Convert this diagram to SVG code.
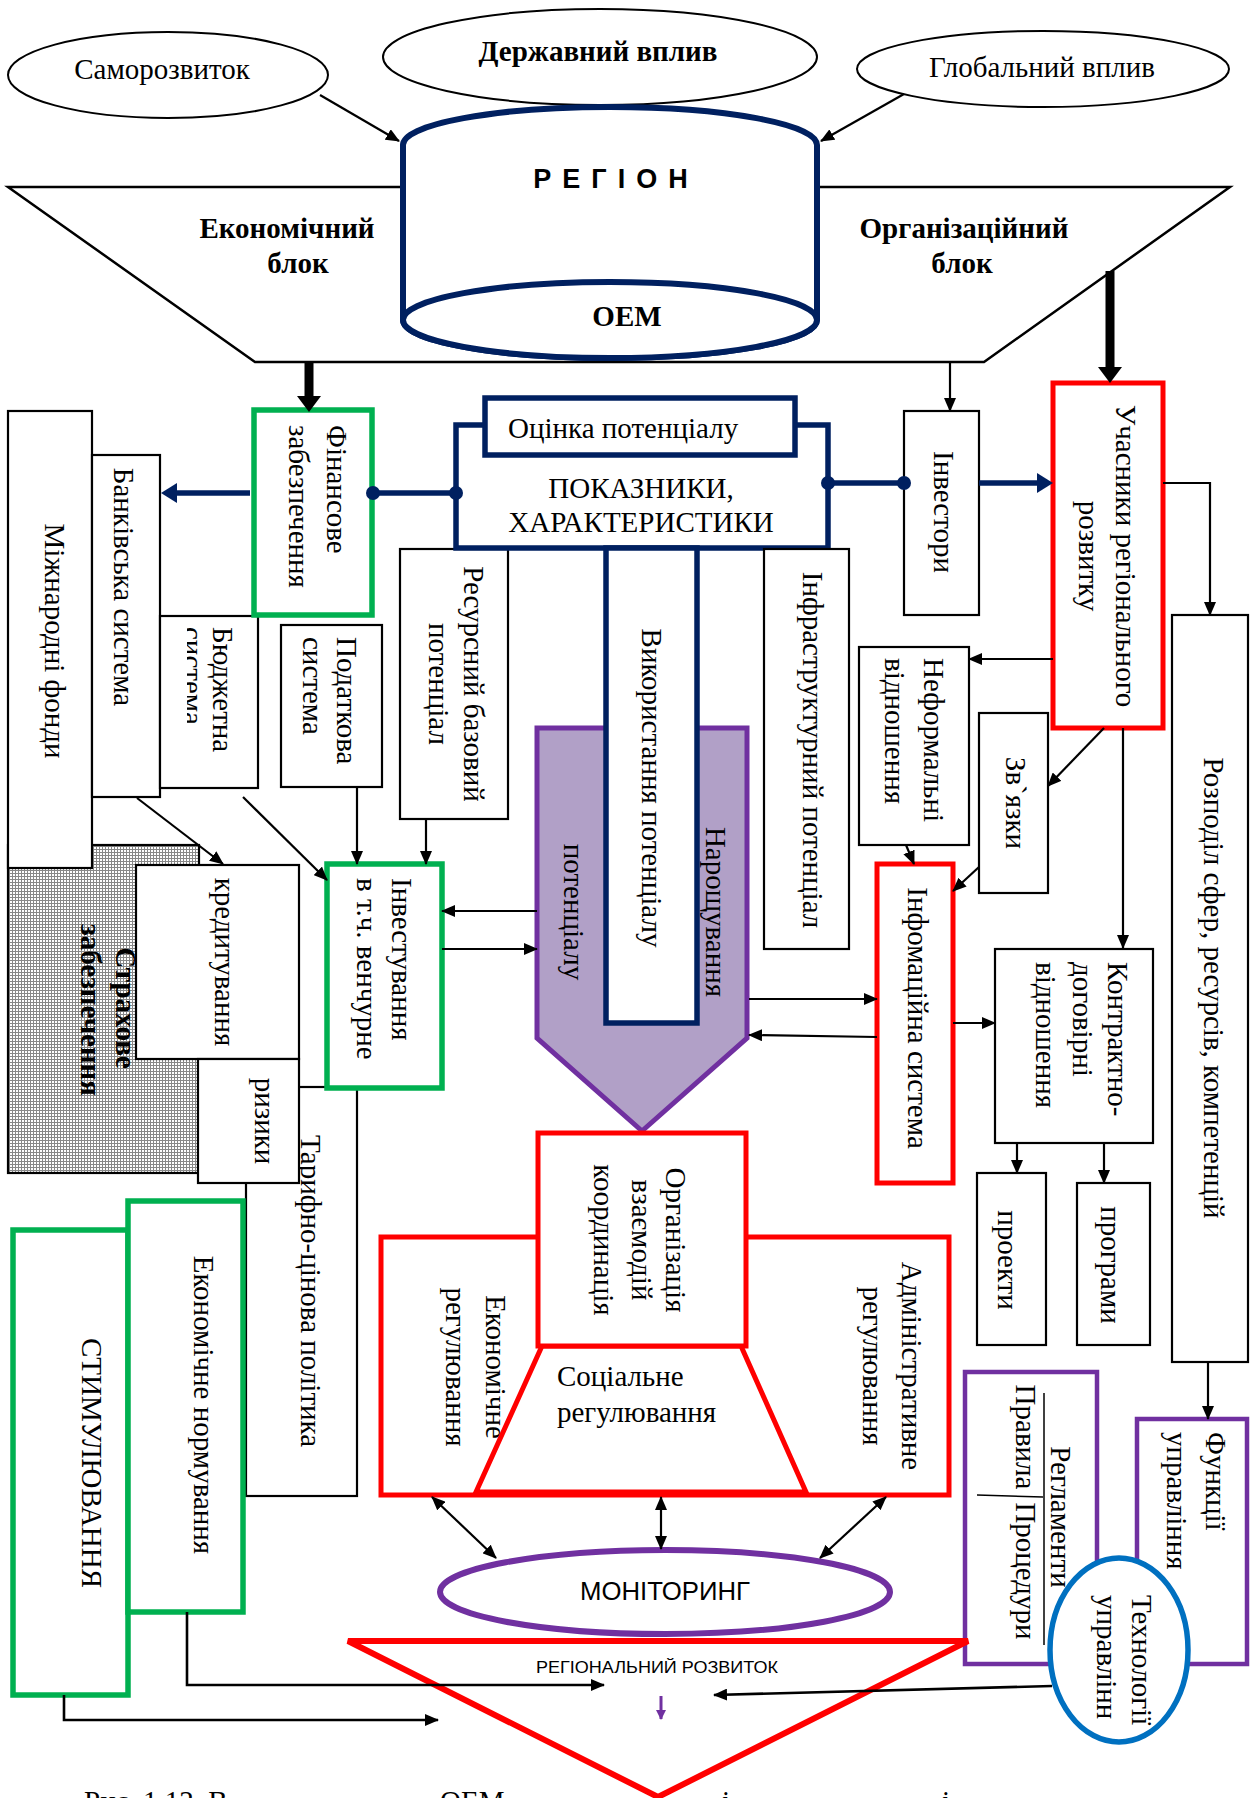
<svg xmlns="http://www.w3.org/2000/svg" width="1255" height="1798" viewBox="0 0 1255 1798">
<defs>
<style>
.t{font-family:"Liberation Serif","DejaVu Serif",serif;font-size:29px;fill:#000}
.tb{font-weight:bold}
.s{font-family:"Liberation Sans","DejaVu Sans",sans-serif}
.b{fill:#fff;stroke:#000;stroke-width:2.2}
.g{fill:#fff;stroke:#00B050;stroke-width:5.5}
.r{fill:#fff;stroke:#FF0000;stroke-width:5}
.n{fill:#fff;stroke:#002060;stroke-width:5.5}
.p{fill:#fff;stroke:#7030A0;stroke-width:4.5}
.c{fill:none;stroke:#000;stroke-width:2.2}
.cn{fill:none;stroke:#002060;stroke-width:5.5}
</style>
<marker id="ah" viewBox="0 0 14 12" refX="13" refY="6" markerWidth="14" markerHeight="12" markerUnits="userSpaceOnUse" orient="auto"><path d="M0,0L14,6L0,12z" fill="#000"/></marker>
<marker id="ahs" viewBox="0 0 14 12" refX="13" refY="6" markerWidth="14" markerHeight="12" markerUnits="userSpaceOnUse" orient="auto-start-reverse"><path d="M0,0L14,6L0,12z" fill="#000"/></marker>
<marker id="ahT" viewBox="0 0 16 24" refX="0" refY="12" markerWidth="16" markerHeight="24" markerUnits="userSpaceOnUse" orient="auto"><path d="M0,0L16,12L0,24z" fill="#000"/></marker>
<marker id="ahN" viewBox="0 0 16 20" refX="0" refY="10" markerWidth="16" markerHeight="20" markerUnits="userSpaceOnUse" orient="auto"><path d="M0,0L16,10L0,20z" fill="#002060"/></marker>
<marker id="ahP" viewBox="0 0 10 10" refX="9" refY="5" markerWidth="10" markerHeight="10" markerUnits="userSpaceOnUse" orient="auto"><path d="M0,0L10,5L0,10z" fill="#7030A0"/></marker>
<pattern id="grid" width="3" height="3" patternUnits="userSpaceOnUse"><rect width="3" height="3" fill="#fff"/><rect width="3" height="1" fill="#888"/><rect width="1" height="3" fill="#888"/></pattern>
<clipPath id="clipB" clipPathUnits="userSpaceOnUse"><rect x="187" y="616" width="71" height="172"/></clipPath>
</defs>

<g id="top-block">
<polygon points="8,187 1230,187 984,362 255,362" fill="#fff" stroke="#000" stroke-width="2.5"/>
<text class="t tb" x="287" y="238" text-anchor="middle">Економічний</text>
<text class="t tb" x="298" y="273" text-anchor="middle">блок</text>
<text class="t tb" x="964" y="238" text-anchor="middle">Організаційний</text>
<text class="t tb" x="962" y="273" text-anchor="middle">блок</text>
</g>

<g id="samorozvytok">
<ellipse cx="168" cy="75" rx="160" ry="43" fill="#fff" stroke="#000" stroke-width="2"/>
<text class="t" x="162" y="79" text-anchor="middle">Саморозвиток</text>
</g>
<g id="derzhavnyi">
<ellipse cx="600" cy="57" rx="217" ry="48" fill="#fff" stroke="#000" stroke-width="2"/>
<text class="t tb" x="598" y="61" text-anchor="middle">Державний вплив</text>
</g>
<g id="hlobalnyi">
<ellipse cx="1043" cy="69" rx="186" ry="38" fill="#fff" stroke="#000" stroke-width="2"/>
<text class="t" x="1042" y="77" text-anchor="middle">Глобальний вплив</text>
</g>

<g id="region">
<path d="M403,145 A207,38 0 0 1 817,145 L817,320 A207,38 0 0 1 403,320 Z" fill="#fff" stroke="#002060" stroke-width="6"/>
<ellipse cx="610" cy="320" rx="207" ry="38" fill="#fff" stroke="#002060" stroke-width="6"/>
<text class="s" x="616" y="188" text-anchor="middle" font-size="27" font-weight="900" letter-spacing="11">РЕГІОН</text>
<text class="t tb" x="627" y="326" text-anchor="middle">ОЕМ</text>
</g>

<g id="strakhove">
<rect x="8" y="845" width="191" height="328" fill="url(#grid)" stroke="#000" stroke-width="2.2"/>
<text class="t tb" text-anchor="middle" transform="translate(123,1008) rotate(90)" y="7">Страхове</text>
<text class="t tb" text-anchor="middle" transform="translate(88,1010) rotate(90)" y="7">забезпечення</text>
</g>

<g id="mizhnarodni">
<rect class="b" x="8" y="411" width="84" height="457"/>
<text class="t" text-anchor="middle" transform="translate(52,641) rotate(90)" y="7">Міжнародні фонди</text>
</g>
<g id="bankivska">
<rect class="b" x="92" y="455" width="68" height="342"/>
<text class="t" text-anchor="middle" transform="translate(121,587) rotate(90)" y="7">Банківська система</text>
</g>
<g id="budzhetna">
<rect class="b" x="160" y="616" width="98" height="172"/>
<text class="t" transform="translate(220,627) rotate(90)" y="7">Бюджетна</text>
<g clip-path="url(#clipB)">
<text class="t" transform="translate(190,627) rotate(90)" y="7">система</text>
</g>
</g>
<g id="finansove">
<rect class="g" x="254" y="410" width="118" height="205"/>
<text class="t" transform="translate(334,425) rotate(90)" y="7">Фінансове</text>
<text class="t" transform="translate(296,425) rotate(90)" y="7">забезпечення</text>
</g>
<g id="podatkova">
<rect class="b" x="281" y="625" width="101" height="162"/>
<text class="t" transform="translate(344,637) rotate(90)" y="7">Податкова</text>
<text class="t" transform="translate(310,637) rotate(90)" y="7">система</text>
</g>
<g id="resursnyi">
<rect class="b" x="400" y="549" width="108" height="270"/>
<text class="t" text-anchor="middle" transform="translate(471,684) rotate(90)" y="7">Ресурсний базовий</text>
<text class="t" text-anchor="middle" transform="translate(436,684) rotate(90)" y="7">потенціал</text>
</g>

<g id="pokaznyky">
<rect class="n" x="456" y="425" width="372" height="123"/>
<text class="t" x="641" y="498" text-anchor="middle">ПОКАЗНИКИ,</text>
<text class="t" x="641" y="532" text-anchor="middle">ХАРАКТЕРИСТИКИ</text>
</g>
<g id="otsinka">
<rect class="n" x="485" y="398" width="310" height="57"/>
<text class="t" x="508" y="438">Оцінка потенціалу</text>
</g>

<g id="infrastrukturnyi">
<rect class="b" x="764" y="549" width="85" height="400"/>
<text class="t" text-anchor="middle" transform="translate(810,750) rotate(90)" y="7">Інфраструктурний потенціал</text>
</g>

<g id="naroshchuvannia">
<polygon points="537,728 747,728 747,1038 642,1131 537,1038" fill="#B1A0C7" stroke="#7030A0" stroke-width="5"/>
<text class="t" text-anchor="middle" transform="translate(713,912) rotate(90)" y="7">Нарощування</text>
<text class="t" text-anchor="middle" transform="translate(571,912) rotate(90)" y="7">потенціалу</text>
</g>
<g id="vykorystannia">
<rect class="n" x="606" y="548" width="91" height="475"/>
<text class="t" text-anchor="middle" transform="translate(649,788) rotate(90)" y="7">Використання потенціалу</text>
</g>

<g id="investory">
<rect class="b" x="904" y="411" width="75" height="204"/>
<text class="t" text-anchor="middle" transform="translate(941,512) rotate(90)" y="7">Інвестори</text>
</g>
<g id="uchasnyky">
<rect class="r" x="1053" y="383" width="110" height="345"/>
<text class="t" text-anchor="middle" transform="translate(1123,556) rotate(90)" y="7">Учасники регіонального</text>
<text class="t" text-anchor="middle" transform="translate(1086,556) rotate(90)" y="7">розвитку</text>
</g>
<g id="rozpodil">
<rect class="b" x="1172" y="615" width="76" height="747"/>
<text class="t" text-anchor="middle" transform="translate(1211,988) rotate(90)" y="7">Розподіл сфер, ресурсів, компетенцій</text>
</g>
<g id="neformalni">
<rect class="b" x="859" y="647" width="110" height="198"/>
<text class="t" transform="translate(931,658) rotate(90)" y="7">Неформальні</text>
<text class="t" transform="translate(892,658) rotate(90)" y="7">відношення</text>
</g>
<g id="zviazky">
<rect class="b" x="979" y="713" width="69" height="180"/>
<text class="t" text-anchor="middle" transform="translate(1013,803) rotate(90)" y="7">Зв`язки</text>
</g>
<g id="informatsiina">
<rect class="r" x="877" y="864" width="76" height="319"/>
<text class="t" text-anchor="middle" transform="translate(915,1018) rotate(90)" y="7">Інфомаційна система</text>
</g>
<g id="kontraktno">
<rect class="b" x="995" y="949" width="158" height="194"/>
<text class="t" transform="translate(1115,962) rotate(90)" y="7">Контрактно-</text>
<text class="t" transform="translate(1080,962) rotate(90)" y="7">договірні</text>
<text class="t" transform="translate(1043,962) rotate(90)" y="7">відношення</text>
</g>
<g id="proekty">
<rect class="b" x="977" y="1173" width="69" height="172"/>
<text class="t" text-anchor="middle" transform="translate(1005,1260) rotate(90)" y="7">проекти</text>
</g>
<g id="prohramy">
<rect class="b" x="1077" y="1183" width="73" height="162"/>
<text class="t" text-anchor="middle" transform="translate(1108,1265) rotate(90)" y="7">програми</text>
</g>

<g id="kredytuvannia">
<rect class="b" x="136" y="865" width="163" height="194"/>
<text class="t" text-anchor="middle" transform="translate(222,962) rotate(90)" y="7">кредитування</text>
</g>
<g id="taryfno">
<rect class="b" x="246" y="1087" width="111" height="409"/>
<text class="t" text-anchor="middle" transform="translate(308,1291) rotate(90)" y="7">Тарифно-цінова політика</text>
</g>
<g id="ryzyky">
<rect class="b" x="198" y="1059" width="101" height="124"/>
<text class="t" text-anchor="middle" transform="translate(262,1121) rotate(90)" y="7">ризики</text>
</g>
<g id="investuvannia">
<rect class="g" x="327" y="864" width="115" height="224"/>
<text class="t" transform="translate(399,878) rotate(90)" y="7">Інвестування</text>
<text class="t" transform="translate(364,878) rotate(90)" y="7">в  т.ч. венчурне</text>
</g>

<g id="stymuliuvannia">
<rect class="g" x="13" y="1230" width="115" height="465"/>
<text class="t" text-anchor="middle" transform="translate(89,1463) rotate(90)" y="7">СТИМУЛЮВАННЯ</text>
</g>
<g id="ekon-normuvannia">
<rect class="g" x="128" y="1201" width="115" height="411"/>
<text class="t" text-anchor="middle" transform="translate(201,1405) rotate(90)" y="7">Економічне  нормування</text>
</g>

<g id="rehuliuvannia">
<rect class="r" x="381" y="1237" width="568" height="258"/>
<text class="t" text-anchor="middle" transform="translate(493,1367) rotate(90)" y="7">Економічне</text>
<text class="t" text-anchor="middle" transform="translate(453,1367) rotate(90)" y="7">регулювання</text>
<text class="t" text-anchor="middle" transform="translate(909,1366) rotate(90)" y="7">Адміністративне</text>
<text class="t" text-anchor="middle" transform="translate(870,1366) rotate(90)" y="7">регулювання</text>
</g>
<g id="sotsialne">
<polygon class="r" points="542,1346 741,1346 806,1492 476,1492"/>
<text class="t" x="557" y="1386">Соціальне</text>
<text class="t" x="557" y="1422">регулювання</text>
</g>
<g id="orhanizatsiia">
<rect class="r" x="538" y="1133" width="208" height="213"/>
<text class="t" text-anchor="middle" transform="translate(673,1240) rotate(90)" y="7">Організація</text>
<text class="t" text-anchor="middle" transform="translate(639,1240) rotate(90)" y="7">взаємодій</text>
<text class="t" text-anchor="middle" transform="translate(601,1240) rotate(90)" y="7">координація</text>
</g>

<g id="funktsii">
<rect class="p" x="1137" y="1419" width="110" height="245"/>
<text class="t" transform="translate(1213,1432) rotate(90)" y="7">Функції</text>
<text class="t" transform="translate(1174,1432) rotate(90)" y="7">управління</text>
</g>
<g id="rehlamenty">
<rect class="p" x="965" y="1372" width="132" height="292"/>
<text class="t" text-anchor="middle" transform="translate(1058,1517) rotate(90)" y="7">Регламенти</text>
<line x1="1044" y1="1393" x2="1044" y2="1645" stroke="#000" stroke-width="1.5"/>
<text class="t" text-anchor="middle" transform="translate(1023,1437) rotate(90)" y="7">Правила</text>
<line x1="977" y1="1495" x2="1043" y2="1497" stroke="#000" stroke-width="1.5"/>
<text class="t" text-anchor="middle" transform="translate(1023,1571) rotate(90)" y="7">Процедури</text>
</g>

<g id="rozvytok">
<polygon points="348,1641 968,1641 658,1797" fill="#fff" stroke="#FF0000" stroke-width="6" stroke-linejoin="miter"/>
<text class="s" x="657" y="1673" text-anchor="middle" font-size="17" textLength="242" lengthAdjust="spacingAndGlyphs">РЕГІОНАЛЬНИЙ РОЗВИТОК</text>
</g>
<g id="monitorynh">
<ellipse cx="665" cy="1592" rx="225" ry="42" fill="#fff" stroke="#7030A0" stroke-width="6"/>
<text class="s" x="665" y="1600" text-anchor="middle" font-size="25" textLength="170" lengthAdjust="spacingAndGlyphs">МОНІТОРИНГ</text>
</g>
<g id="tekhnolohii">
<ellipse cx="1119" cy="1650" rx="69" ry="92" fill="#fff" stroke="#0070C0" stroke-width="5.5"/>
<text class="t" font-size="22" transform="translate(1138,1595) rotate(90)" y="6">Технології</text>
<text class="t" font-size="22" transform="translate(1103,1595) rotate(90)" y="6">управлінн</text>
</g>

<g id="caption">
<text class="t" x="84" y="1811">Рис. 1.12. В</text>
<text class="t" x="440" y="1811">ОЕМ</text>
<text class="t" x="722" y="1811">і</text>
<text class="t" x="942" y="1811">і</text>
</g>

<g id="connectors">
<line class="c" x1="320" y1="95" x2="399" y2="141" marker-end="url(#ah)"/>
<line class="c" x1="904" y1="94" x2="821" y2="141" marker-end="url(#ah)"/>
<line x1="309" y1="362" x2="309" y2="396" stroke="#000" stroke-width="9" marker-end="url(#ahT)"/>
<line x1="1110" y1="271" x2="1110" y2="367" stroke="#000" stroke-width="9" marker-end="url(#ahT)"/>
<line class="c" x1="950" y1="362" x2="950" y2="411" marker-end="url(#ah)"/>

<line class="cn" x1="373" y1="493" x2="456" y2="493"/>
<line class="cn" x1="250" y1="493" x2="177" y2="493" marker-end="url(#ahN)"/>
<line class="cn" x1="828" y1="483" x2="904" y2="483"/>
<line class="cn" x1="979" y1="483" x2="1037" y2="483" marker-end="url(#ahN)"/>
<circle cx="373" cy="493" r="7" fill="#002060"/>
<circle cx="456" cy="493" r="7" fill="#002060"/>
<circle cx="828" cy="483" r="7" fill="#002060"/>
<circle cx="904" cy="483" r="7" fill="#002060"/>

<polyline class="c" points="1163,483 1210,483 1210,615" marker-end="url(#ah)"/>
<line class="c" x1="1053" y1="659" x2="969" y2="659" marker-end="url(#ah)"/>
<line class="c" x1="1104" y1="728" x2="1048" y2="786" marker-end="url(#ah)"/>
<line class="c" x1="1123" y1="728" x2="1123" y2="948" marker-end="url(#ah)"/>
<line class="c" x1="906" y1="845" x2="914" y2="864" marker-end="url(#ah)"/>
<line class="c" x1="979" y1="867" x2="953" y2="891" marker-end="url(#ah)"/>
<line class="c" x1="749" y1="999" x2="877" y2="999" marker-end="url(#ah)"/>
<line class="c" x1="877" y1="1037" x2="749" y2="1035" marker-end="url(#ah)"/>
<line class="c" x1="953" y1="1023" x2="995" y2="1023" marker-end="url(#ah)"/>
<line class="c" x1="1017" y1="1143" x2="1017" y2="1173" marker-end="url(#ah)"/>
<line class="c" x1="1104" y1="1143" x2="1104" y2="1183" marker-end="url(#ah)"/>
<line class="c" x1="1208" y1="1362" x2="1208" y2="1419" marker-end="url(#ah)"/>

<line class="c" x1="137" y1="798" x2="223" y2="864" marker-end="url(#ah)"/>
<line class="c" x1="243" y1="797" x2="327" y2="880" marker-end="url(#ah)"/>
<line class="c" x1="357" y1="787" x2="357" y2="864" marker-end="url(#ah)"/>
<line class="c" x1="426" y1="819" x2="426" y2="864" marker-end="url(#ah)"/>
<line class="c" x1="537" y1="911" x2="442" y2="911" marker-end="url(#ah)"/>
<line class="c" x1="442" y1="949" x2="537" y2="949" marker-end="url(#ah)"/>

<line class="c" x1="432" y1="1497" x2="496" y2="1558" marker-start="url(#ahs)" marker-end="url(#ahs)"/>
<line class="c" x1="661" y1="1497" x2="661" y2="1549" marker-start="url(#ahs)" marker-end="url(#ahs)"/>
<line class="c" x1="886" y1="1497" x2="820" y2="1558" marker-start="url(#ahs)" marker-end="url(#ahs)"/>

<polyline points="187,1612 187,1685 604,1685" fill="none" stroke="#000" stroke-width="2.6" marker-end="url(#ah)"/>
<polyline points="64,1695 64,1720 438,1720" fill="none" stroke="#000" stroke-width="2.6" marker-end="url(#ah)"/>
<line x1="1052" y1="1686" x2="714" y2="1695" stroke="#000" stroke-width="2.6" marker-end="url(#ah)"/>
<line x1="661" y1="1696" x2="661" y2="1719" stroke="#7030A0" stroke-width="3" marker-end="url(#ahP)"/>
</g>
</svg>
